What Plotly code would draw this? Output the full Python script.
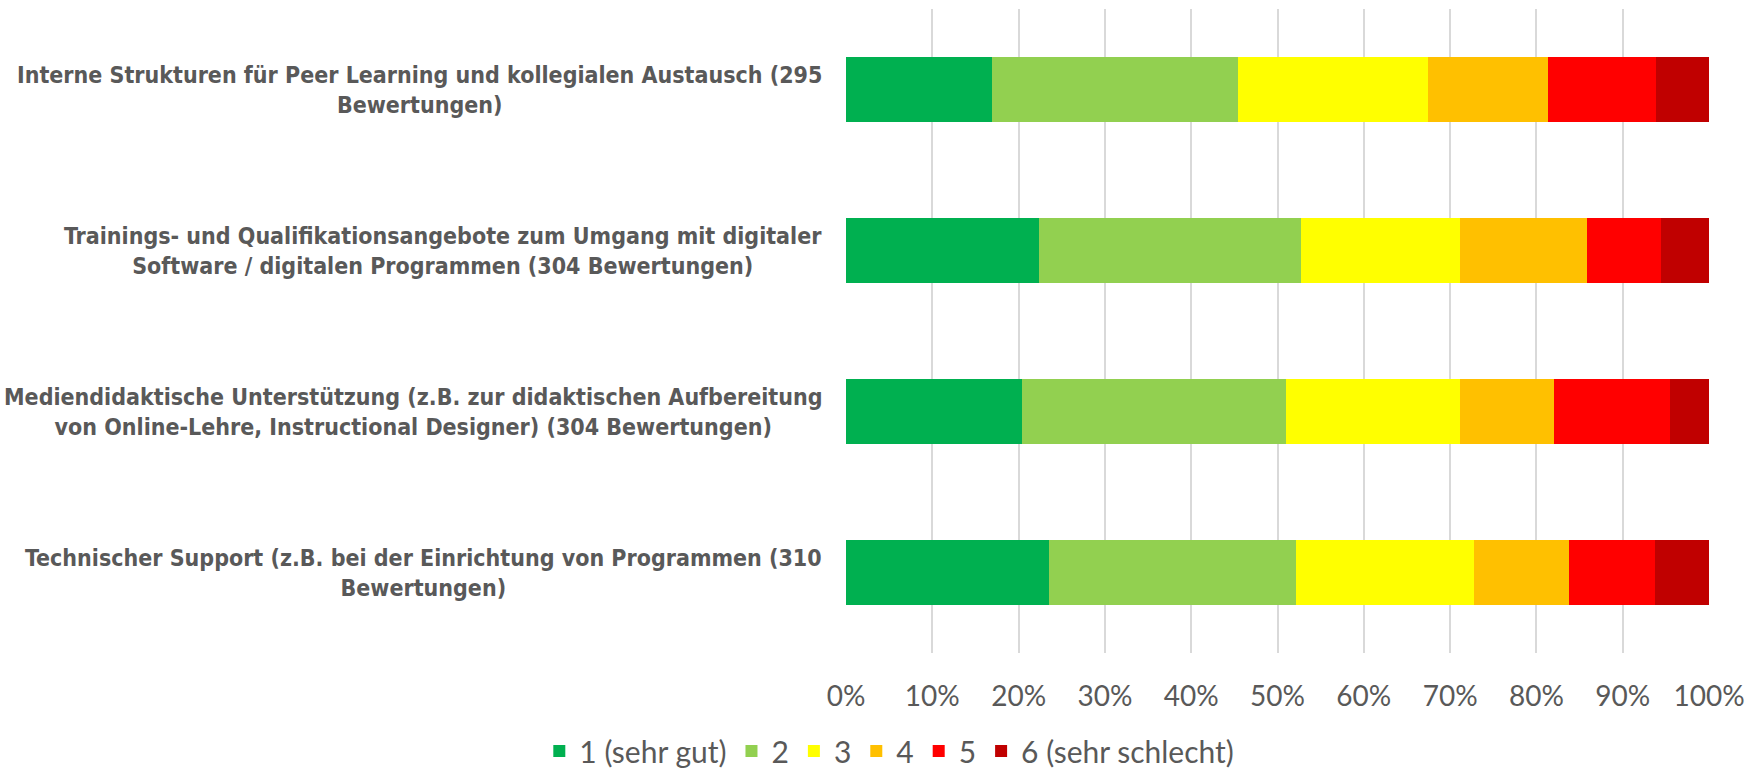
import plotly.graph_objects as go

# ── Data (shares in % per rating) ────────────────────────────────────────────
CATEGORIES = [
    "Interne Strukturen für Peer Learning und kollegialen Austausch (295<br>Bewertungen)",
    "Trainings- und Qualifikationsangebote zum Umgang mit digitaler<br>Software / digitalen Programmen (304 Bewertungen)",
    "Mediendidaktische Unterstützung (z.B. zur didaktischen Aufbereitung<br>von Online-Lehre, Instructional Designer) (304 Bewertungen)",
    "Technischer Support (z.B. bei der Einrichtung von Programmen (310<br>Bewertungen)",
]
RATINGS = ["1 (sehr gut)", "2", "3", "4", "5", "6 (sehr schlecht)"]
SHARE_1 = [16.9, 22.4, 20.4, 23.5]
SHARE_2 = [28.5, 30.3, 30.6, 28.7]
SHARE_3 = [22.0, 18.4, 20.1, 20.6]
SHARE_4 = [13.9, 14.8, 10.9, 11.0]
SHARE_5 = [12.6, 8.5, 13.5, 10.0]
SHARE_6 = [6.1, 5.6, 4.5, 6.2]
X_TICKS = [0, 10, 20, 30, 40, 50, 60, 70, 80, 90, 100]

# ── Style ────────────────────────────────────────────────────────────────────
COLORS = ["#00B050", "#92D050", "#FFFF00", "#FFC000", "#FF0000", "#C00000"]
GREY = "#595959"
GRID = "#D9D9D9"
TICK_FONT = "Lato, Carlito, Calibri, sans-serif"
LABEL_FONT = "DejaVu Sans Condensed, sans-serif"

shares = [SHARE_1, SHARE_2, SHARE_3, SHARE_4, SHARE_5, SHARE_6]

fig = go.Figure()
for name, vals, color in zip(RATINGS, shares, COLORS):
    fig.add_trace(go.Bar(
        y=CATEGORIES, x=vals, name=name, orientation="h",
        marker=dict(color=color, line=dict(width=0)),
    ))

for cat in CATEGORIES:
    fig.add_annotation(
        xref="paper", yref="y", x=0, y=cat, xanchor="right", yanchor="middle",
        xshift=-22, text=cat, showarrow=False, align="center",
        font=dict(family=LABEL_FONT, size=23, color=GREY, weight="bold"),
    )

fig.update_layout(
    width=1761, height=771, barmode="stack", bargap=0.6,
    margin=dict(l=846, r=52, t=9, b=118),
    paper_bgcolor="white", plot_bgcolor="white",
    showlegend=True,
    legend=dict(
        orientation="h", xref="container", yref="container", x=0.505, y=0.026,
        xanchor="center", yanchor="middle", traceorder="normal",
        font=dict(family=TICK_FONT, size=30, color=GREY), itemwidth=30,
    ),
    xaxis=dict(
        range=[0, 100], tickvals=X_TICKS, ticktext=[f"{v}%" for v in X_TICKS],
        showgrid=True, gridcolor=GRID, gridwidth=1.5, zeroline=False, showline=False,
        ticks="", ticklabelstandoff=24,
        tickfont=dict(family=TICK_FONT, size=28, color=GREY),
    ),
    yaxis=dict(autorange="reversed", showticklabels=False, showgrid=False, zeroline=False),
)

fig.write_html(
    "out.html",
    config={"displayModeBar": False},
    post_script="document.body.style.margin = '0';",
)
